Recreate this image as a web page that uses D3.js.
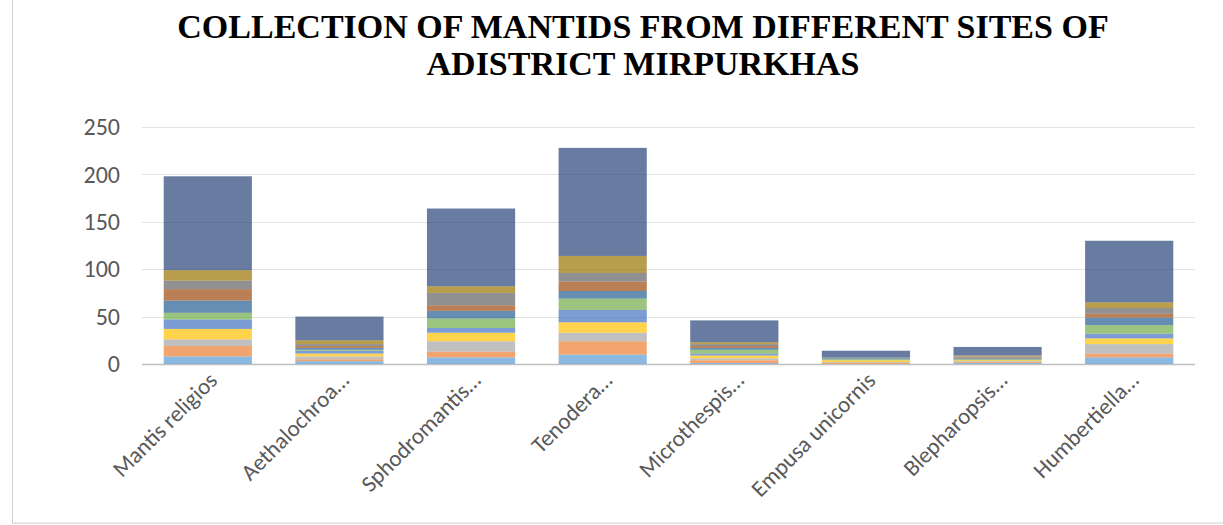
<!DOCTYPE html>
<html lang="en">
<head>
    <meta charset="UTF-8">
    <title>Collection of mantids</title>
    <script src="https://d3js.org/d3.v7.min.js"></script>
    <style>
        body {
            margin: 0;
            background: #fff;
            overflow: hidden;
        }
        .title {
            font-family: "Liberation Serif", "Times New Roman", serif;
            font-weight: bold;
            font-size: 34px;
            fill: #000;
        }
        .axis text {
            font-family: "Carlito", "Lato", "Liberation Sans", sans-serif;
            fill: #595959;
        }
    </style>
</head>
<body>
    <script>
        // species (categories on the x axis)
        const species = ["Mantis religios", "Aethalochroa…", "Sphodromantis…", "Tenodera…",
            "Microthespis…", "Empusa unicornis", "Blepharopsis…", "Humbertiella…"];

        // one array per site, values per species
        const site1  = [8, 3, 7, 10, 1, 0, 1, 7];
        const site2  = [11, 2, 6, 14, 3, 1, 1, 4];
        const site3  = [7, 3, 11, 9, 2, 1, 1, 10];
        const site4  = [11, 3, 9, 11, 3, 2, 1, 6];
        const site5  = [10, 3, 5, 13, 2, 0, 0, 5];
        const site6  = [7, 1, 10, 12, 4, 1, 1, 9];
        const site7  = [13, 2, 8, 8, 2, 1, 1, 8];
        const site8  = [12, 2, 6, 10, 2, 0, 1, 4];
        const site9  = [9, 2, 13, 9, 2, 1, 1, 6];
        const site10 = [11, 4, 7, 18, 2, 0, 1, 6];
        const totals = [99, 25, 82, 114, 23, 7, 9, 65];

        const seriesNames = ["Site 1", "Site 2", "Site 3", "Site 4", "Site 5", "Site 6",
            "Site 7", "Site 8", "Site 9", "Site 10", "Total"];
        const seriesValues = [site1, site2, site3, site4, site5, site6, site7, site8, site9, site10, totals];
        const colors = ["#5B9BD5", "#ED7D31", "#A5A5A5", "#FFC000", "#4472C4", "#70AD47",
            "#255E91", "#9E480E", "#636363", "#997300", "#264478"];

        const yTicks = [0, 50, 100, 150, 200, 250];

        const width = 1223, height = 525;
        const margin = {left: 142, right: 28, top: 127, bottom: 161};

        const svg = d3.select("body").append("svg")
            .attr("width", width)
            .attr("height", height);

        // outer chart border
        svg.append("rect")
            .attr("x", 12.5).attr("y", -5)
            .attr("width", width + 10).attr("height", 528)
            .attr("fill", "none")
            .attr("stroke", "#d0d0d0");

        // title
        const title = svg.append("text")
            .attr("class", "title")
            .attr("text-anchor", "middle");
        title.append("tspan").attr("x", 643).attr("y", 38).text("COLLECTION OF MANTIDS FROM DIFFERENT SITES OF");
        title.append("tspan").attr("x", 643).attr("y", 75).text("ADISTRICT MIRPURKHAS");

        const x = d3.scaleBand()
            .domain(species)
            .range([margin.left, width - margin.right])
            .paddingInner(0.33)
            .paddingOuter(0.165);

        const y = d3.scaleLinear()
            .domain([0, 250])
            .range([height - margin.bottom, margin.top]);

        // gridlines
        svg.append("g")
            .selectAll("line")
            .data(yTicks)
            .enter().append("line")
            .attr("x1", margin.left)
            .attr("x2", width - margin.right)
            .attr("y1", d => Math.round(y(d)) + 0.5)
            .attr("y2", d => Math.round(y(d)) + 0.5)
            .attr("stroke", d => d === 0 ? "#bfbfbf" : "#e3e3e3")
            .attr("stroke-width", d => d === 0 ? 1.5 : 1.2);

        // stack data
        const rows = species.map((s, i) => {
            const r = {species: s};
            seriesNames.forEach((n, k) => r[n] = seriesValues[k][i]);
            return r;
        });
        const stacked = d3.stack().keys(seriesNames)(rows);

        svg.append("g")
            .selectAll("g")
            .data(stacked)
            .enter().append("g")
            .attr("fill", (d, i) => colors[i])
            .attr("fill-opacity", 0.7)
            .selectAll("rect")
            .data(d => d)
            .enter().append("rect")
            .attr("x", d => x(d.data.species))
            .attr("width", x.bandwidth())
            .attr("y", d => y(d[1]))
            .attr("height", d => y(d[0]) - y(d[1]));

        // y axis labels
        const yAxis = svg.append("g")
            .attr("class", "axis")
            .attr("transform", `translate(${margin.left}, 0)`)
            .call(d3.axisLeft(y).tickValues(yTicks).tickSize(0).tickPadding(22));
        yAxis.select(".domain").remove();
        yAxis.selectAll("text").style("font-size", "24px");

        // x axis labels
        const xAxis = svg.append("g")
            .attr("class", "axis")
            .attr("transform", `translate(0, ${height - margin.bottom})`)
            .call(d3.axisBottom(x).tickSize(0));
        xAxis.select(".domain").remove();
        xAxis.selectAll("text")
            .style("font-size", "23px")
            .attr("text-anchor", "end")
            .attr("dy", "0.35em")
            .attr("transform", "translate(3, 10) rotate(-45)");
    </script>
</body>
</html>
